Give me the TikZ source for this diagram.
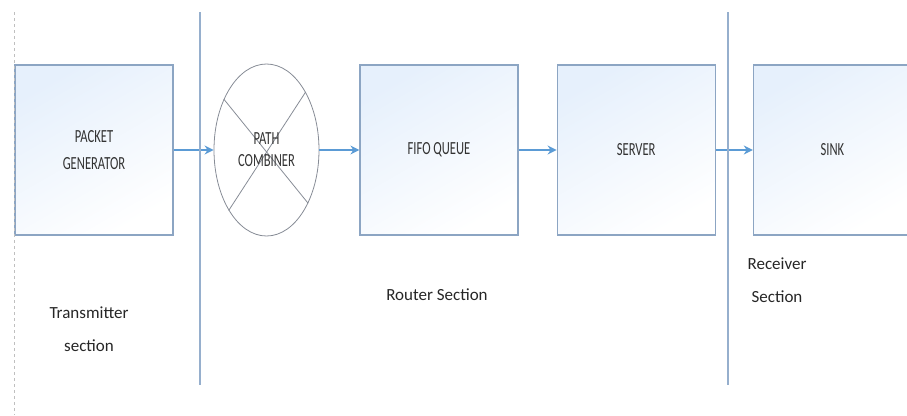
\documentclass[tikz,border=0pt]{standalone}
\usepackage{fontspec}
\setmainfont{Carlito}
\newfontfamily\boxfont[FakeStretch=0.68]{Carlito}
\usepackage{tikz}
\usetikzlibrary{
  arrows.meta,
  shapes.geometric,
  positioning,
  backgrounds
}
\definecolor{BoxLine}  {RGB}{140,165,195}
\definecolor{BoxFill}  {RGB}{230,240,252}
\definecolor{FlowBlue} {RGB}{91,155,213}
\definecolor{RuleBlue} {RGB}{150,175,205}
\definecolor{CombGray} {RGB}{135,140,150}

\begin{document}
\begin{tikzpicture}[
  x=1pt, y=-1pt,
  node distance=40pt,
  block/.style={rectangle, minimum width=158pt, minimum height=170pt,
                inner sep=0pt, align=center, draw=BoxLine, line width=1.2pt,
                top color=BoxFill, bottom color=white, shading angle=30,
                font=\boxfont\fontsize{18.5}{27}\selectfont, text=black!80},
  combiner/.style={ellipse, minimum width=105pt, minimum height=172pt,
                   inner sep=0pt, align=center, draw=CombGray, line width=0.8pt,
                   font=\boxfont\fontsize{18.5}{22}\selectfont, text=black!80},
  arr/.style={-{Stealth[length=9pt,width=9pt]}, line width=1.8pt, color=FlowBlue},
  divider/.style={line width=1.4pt, color=RuleBlue},
  sect/.style={font=\fontsize{17}{33}\selectfont, align=center, text=black!85}
]
\useasboundingbox (0,0) rectangle (907,415);

\node[block] (gen) at (94,150) {PACKET\\GENERATOR};
\node[combiner, right=40pt of gen] (comb) {PATH\\COMBINER};
\node[block, right=40pt of comb] (fifo) {FIFO QUEUE};
\node[block, right=38pt of fifo] (server) {SERVER};
\node[block, right=37pt of server] (sink) {SINK};

\begin{scope}[on background layer]
  \draw[CombGray, line width=0.8pt] (comb.130) -- (comb.-52);
  \draw[CombGray, line width=0.8pt] (comb.56) -- (comb.-122);
\end{scope}

\draw[arr] (gen)    -- (comb);
\draw[arr] (comb)   -- (fifo);
\draw[arr] (fifo)   -- (server);
\draw[arr] (server) -- (sink);

% section borders
\draw[black!25, dashed, line width=0.8pt] (14,12) -- (14,415);
\draw[divider] (200,12) -- (200,385);
\draw[divider] (728,12) -- (728,385);

\node[sect] (tx)  at (89,329)  {Transmitter\\section};
\node[sect] (rt)  at (437,295) {Router Section};
\node[sect] (rx)  at (777,280) {Receiver\\Section};

\end{tikzpicture}
\end{document}
